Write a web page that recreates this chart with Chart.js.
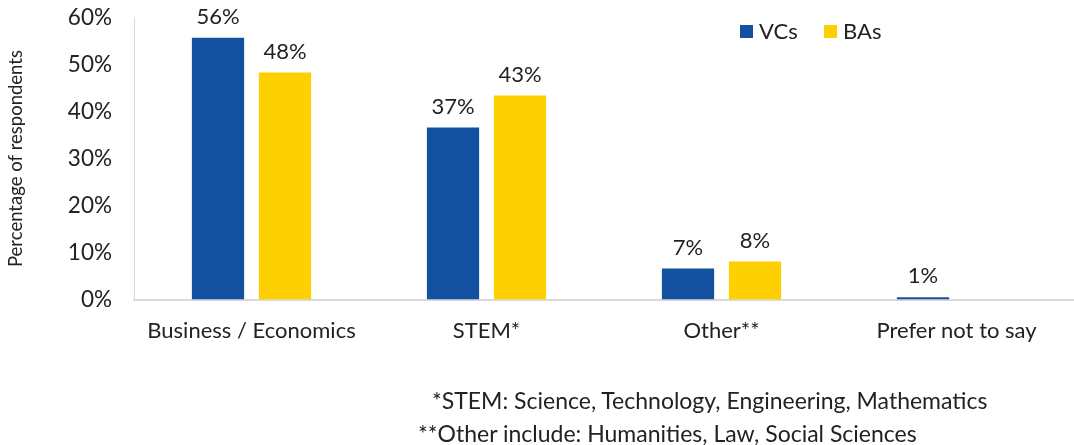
<!DOCTYPE html>
<html>
<head>
<meta charset="utf-8">
<script src="https://cdn.jsdelivr.net/npm/chart.js@4.4.0/dist/chart.umd.min.js"></script>
<style>
  body { margin: 0; background: #fff; }
  #wrap { position: relative; width: 1074px; height: 445px; overflow: hidden; }
  #myChart { position: absolute; left: 0; top: -10px; }
  .note { position: absolute; font-family: Lato, sans-serif; font-size: 23px; color: #222; white-space: nowrap; }
</style>
</head>
<body>
<div id="wrap">
  <canvas id="myChart" width="1074" height="445"></canvas>
  <div class="note" style="left:432px; top:386px;">*STEM: Science, Technology, Engineering, Mathematics</div>
  <div class="note" style="left:418px; top:419px;">**Other include: Humanities, Law, Social Sciences</div>
</div>
<script>
const categories = ['Business / Economics', 'STEM*', 'Other**', 'Prefer not to say']
const vcValues = [55.7, 36.6, 6.6, 0.5]
const baValues = [48.3, 43.4, 8.1, null]
const yTicks = [0, 10, 20, 30, 40, 50, 60]

const FONT = 'Lato, sans-serif'
const TEXT = '#222'

// values above each bar
const barLabels = {
  id: 'barLabels',
  afterDatasetsDraw (chart) {
    const c = chart.ctx
    c.save()
    c.font = '22px ' + FONT
    c.fillStyle = TEXT
    c.textAlign = 'center'
    c.textBaseline = 'bottom'
    chart.data.datasets.forEach((ds, i) => {
      chart.getDatasetMeta(i).data.forEach((bar, j) => {
        const v = ds.data[j]
        if (v == null) return
        c.fillText(Math.round(v) + '%', bar.x, bar.y - 10)
      })
    })
    c.restore()
  }
}

// legend sitting inside the plot, top right
const innerLegend = {
  id: 'innerLegend',
  afterDraw (chart) {
    const c = chart.ctx
    c.save()
    c.font = '22px ' + FONT
    c.textBaseline = 'middle'
    let x = 740
    const y = 41
    chart.data.datasets.forEach(ds => {
      c.fillStyle = ds.backgroundColor
      c.fillRect(x, y - 6, 13, 13)
      c.fillStyle = TEXT
      c.fillText(ds.label, x + 19, y + 1)
      x += 84
    })
    c.restore()
  }
}

const ctx = document.getElementById('myChart').getContext('2d')
const myChart = new Chart(ctx, {
  type: 'bar',
  data: {
    labels: categories,
    datasets: [{
      label: 'VCs',
      data: vcValues,
      backgroundColor: '#1350A0'
    }, {
      label: 'BAs',
      data: baValues,
      backgroundColor: '#FFD000'
    }]
  },
  options: {
    responsive: false,
    animation: false,
    categoryPercentage: 0.57,
    barPercentage: 0.78,
    layout: { padding: { top: 0, bottom: 81, left: 0, right: 0 } },
    scales: {
      x: {
        grid: { display: false },
        border: { color: '#d9d9d9', width: 2 },
        ticks: { color: TEXT, font: { family: FONT, size: 22 }, padding: 10 }
      },
      y: {
        min: 0,
        max: 60,
        afterFit (scale) { scale.width = 134 },
        afterBuildTicks (scale) { scale.ticks = yTicks.map(v => ({ value: v })) },
        grid: { display: false },
        border: { color: '#d9d9d9', width: 1 },
        ticks: {
          color: TEXT,
          font: { family: FONT, size: 22.5 },
          padding: 14,
          callback: v => v + '%'
        },
        title: {
          display: true,
          text: 'Percentage of respondents',
          color: TEXT,
          font: { family: FONT, size: 18.5 },
          padding: { top: 5, bottom: 15 }
        }
      }
    },
    plugins: {
      legend: { display: false },
      tooltip: { enabled: false }
    }
  },
  plugins: [barLabels, innerLegend]
})
</script>
</body>
</html>
